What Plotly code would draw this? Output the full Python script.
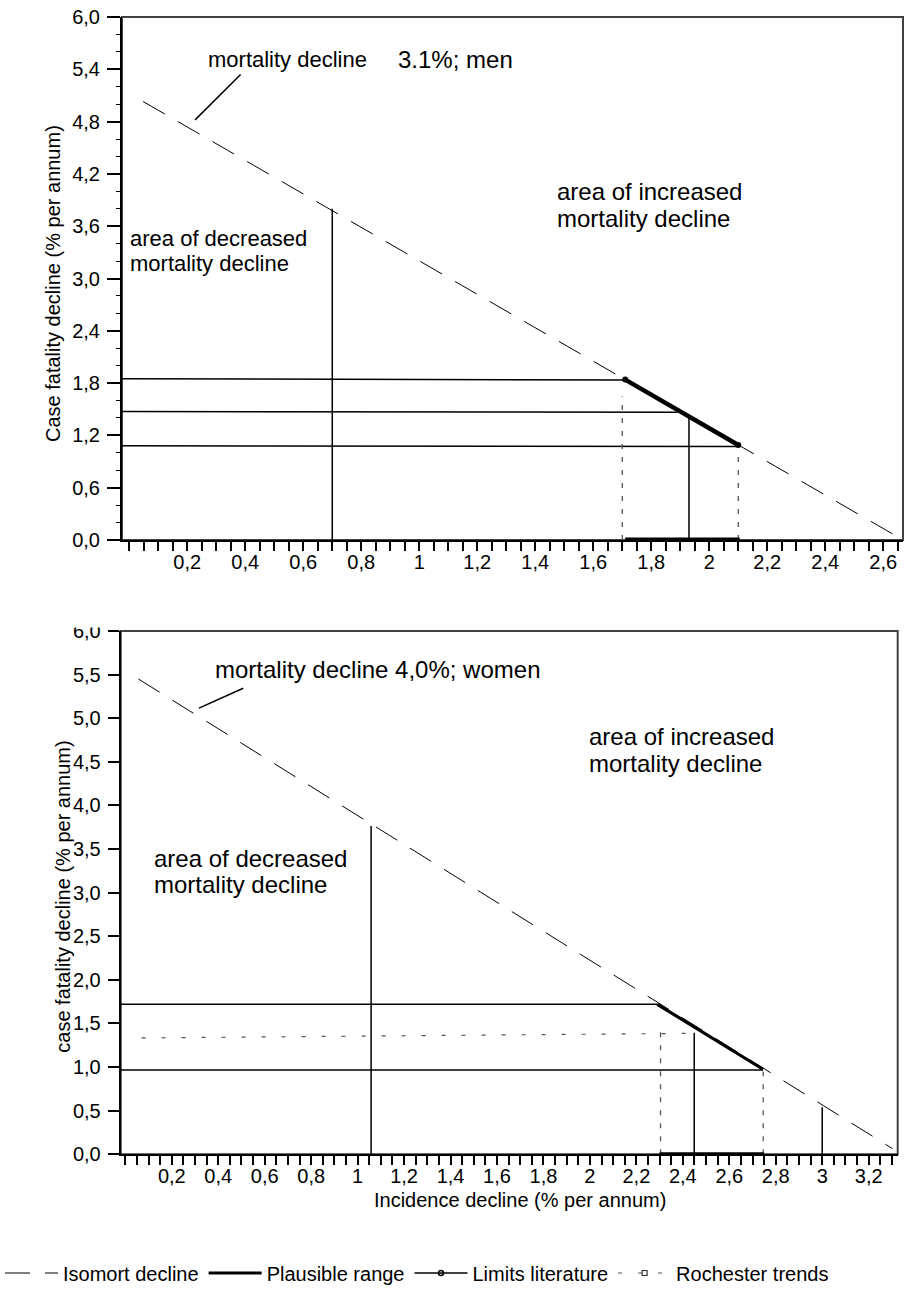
import plotly.graph_objects as go

# ---------------- data: men (top panel) ----------------
men_iso_x = [0.048, 2.632]
men_iso_y = [5.03, 0.07]
men_plaus_x = [1.71, 2.10]
men_plaus_y = [1.84, 1.09]
men_plaus_base_x = [1.71, 2.105]
men_plaus_base_y = [0.0, 0.0]
men_lim_h1_x = [-0.025, 1.71]
men_lim_h1_y = [1.85, 1.835]
men_lim_h2_x = [-0.025, 1.89]
men_lim_h2_y = [1.475, 1.465]
men_lim_h3_x = [-0.025, 2.10]
men_lim_h3_y = [1.082, 1.072]
men_lim_v1_x = [0.70, 0.70]
men_lim_v1_y = [0.0, 3.80]
men_lim_v2_x = [1.93, 1.93]
men_lim_v2_y = [0.0, 1.40]
men_roch_v1_x = [1.70, 1.70]
men_roch_v1_y = [0.0, 1.65]
men_roch_v2_x = [2.10, 2.10]
men_roch_v2_y = [0.0, 0.98]
men_pointer_x = [0.227, 0.384]
men_pointer_y = [4.82, 5.34]

men_xtick_vals = [0.2, 0.4, 0.6, 0.8, 1.0, 1.2, 1.4, 1.6, 1.8, 2.0, 2.2, 2.4, 2.6]
men_xtick_text = ["0,2", "0,4", "0,6", "0,8", "1", "1,2", "1,4", "1,6", "1,8", "2", "2,2", "2,4", "2,6"]
men_ytick_vals = [0.0, 0.6, 1.2, 1.8, 2.4, 3.0, 3.6, 4.2, 4.8, 5.4, 6.0]
men_ytick_text = ["0,0", "0,6", "1,2", "1,8", "2,4", "3,0", "3,6", "4,2", "4,8", "5,4", "6,0"]

# ---------------- data: women (bottom panel) ----------------
wom_iso_x = [0.056, 3.303]
wom_iso_y = [5.45, 0.064]
wom_plaus_x = [2.29, 2.745]
wom_plaus_y = [1.72, 0.975]
wom_plaus_base_x = [2.30, 2.75]
wom_plaus_base_y = [0.0, 0.0]
wom_lim_h1_x = [-0.02, 2.29]
wom_lim_h1_y = [1.72, 1.72]
wom_lim_h2_x = [-0.02, 2.745]
wom_lim_h2_y = [0.967, 0.967]
wom_lim_v1_x = [1.058, 1.058]
wom_lim_v1_y = [0.0, 3.765]
wom_lim_v2_x = [2.449, 2.449]
wom_lim_v2_y = [0.0, 1.395]
wom_lim_v3_x = [3.0, 3.0]
wom_lim_v3_y = [0.0, 0.54]
wom_roch_h_x = [0.07, 2.45]
wom_roch_h_y = [1.334, 1.387]
wom_roch_v1_x = [2.304, 2.304]
wom_roch_v1_y = [0.0, 1.48]
wom_roch_v2_x = [2.746, 2.746]
wom_roch_v2_y = [0.0, 0.95]
wom_pointer_x = [0.317, 0.5075]
wom_pointer_y = [5.115, 5.344]

wom_xtick_vals = [0.2, 0.4, 0.6, 0.8, 1.0, 1.2, 1.4, 1.6, 1.8, 2.0, 2.2, 2.4, 2.6, 2.8, 3.0, 3.2]
wom_xtick_text = ["0,2", "0,4", "0,6", "0,8", "1", "1,2", "1,4", "1,6", "1,8", "2", "2,2", "2,4", "2,6", "2,8", "3", "3,2"]
wom_ytick_vals = [0.0, 0.5, 1.0, 1.5, 2.0, 2.5, 3.0, 3.5, 4.0, 4.5, 5.0, 5.5, 6.0]
wom_ytick_text = ["0,0", "0,5", "1,0", "1,5", "2,0", "2,5", "3,0", "3,5", "4,0", "4,5", "5,0", "5,5", "6,0"]

legend_names = ["Isomort decline", "Plausible range", "Limits literature", "Rochester trends"]

FONT = "Liberation Sans, Arial, sans-serif"
W, H = 904, 1292
BLACK = "#000000"
GRAY = "#555555"

fig = go.Figure()


def line(x, y, xa, ya, width=1.5, color=BLACK, dash="solid"):
    fig.add_trace(go.Scatter(x=x, y=y, xaxis=xa, yaxis=ya, mode="lines",
                             line=dict(color=color, width=width, dash=dash),
                             showlegend=False, hoverinfo="skip"))


ISO_DASH = "25px,15px"

# ---- men panel ----
line(men_iso_x, men_iso_y, "x", "y", width=1, dash=ISO_DASH)
for hx, hy in [(men_lim_h1_x, men_lim_h1_y), (men_lim_h2_x, men_lim_h2_y), (men_lim_h3_x, men_lim_h3_y),
               (men_lim_v1_x, men_lim_v1_y), (men_lim_v2_x, men_lim_v2_y)]:
    line(hx, hy, "x", "y", width=1.5)
for rx, ry in [(men_roch_v1_x, men_roch_v1_y), (men_roch_v2_x, men_roch_v2_y)]:
    line(rx, ry, "x", "y", width=1.3, color=GRAY, dash="5px,8px")
fig.add_trace(go.Scatter(x=men_plaus_x, y=men_plaus_y, xaxis="x", yaxis="y", mode="lines+markers",
                         line=dict(color=BLACK, width=4.5), marker=dict(color=BLACK, size=6),
                         showlegend=False, hoverinfo="skip", cliponaxis=False))
fig.add_trace(go.Scatter(x=men_plaus_base_x, y=men_plaus_base_y, xaxis="x", yaxis="y", mode="lines",
                         line=dict(color=BLACK, width=5), showlegend=False, hoverinfo="skip",
                         cliponaxis=False))
line(men_pointer_x, men_pointer_y, "x", "y", width=1.5)

# ---- women panel ----
line(wom_iso_x, wom_iso_y, "x2", "y2", width=1, dash=ISO_DASH)
for hx, hy in [(wom_lim_h1_x, wom_lim_h1_y), (wom_lim_h2_x, wom_lim_h2_y), (wom_lim_v1_x, wom_lim_v1_y),
               (wom_lim_v2_x, wom_lim_v2_y), (wom_lim_v3_x, wom_lim_v3_y)]:
    line(hx, hy, "x2", "y2", width=1.5)
line(wom_roch_h_x, wom_roch_h_y, "x2", "y2", width=1.2, color=GRAY, dash="4px,16px")
for rx, ry in [(wom_roch_v1_x, wom_roch_v1_y), (wom_roch_v2_x, wom_roch_v2_y)]:
    line(rx, ry, "x2", "y2", width=1.3, color=GRAY, dash="5px,8px")
fig.add_trace(go.Scatter(x=wom_plaus_x, y=wom_plaus_y, xaxis="x2", yaxis="y2", mode="lines",
                         line=dict(color=BLACK, width=3.2), showlegend=False, hoverinfo="skip"))
fig.add_trace(go.Scatter(x=wom_plaus_base_x, y=wom_plaus_base_y, xaxis="x2", yaxis="y2", mode="lines",
                         line=dict(color=BLACK, width=4), showlegend=False, hoverinfo="skip",
                         cliponaxis=False))
line(wom_pointer_x, wom_pointer_y, "x2", "y2", width=1.5)

# ---- legend entries ----
fig.add_trace(go.Scatter(x=[None], y=[None], mode="lines", name=legend_names[0],
                         line=dict(color=BLACK, width=1, dash=ISO_DASH)))
fig.add_trace(go.Scatter(x=[None], y=[None], mode="lines", name=legend_names[1],
                         line=dict(color=BLACK, width=3)))
fig.add_trace(go.Scatter(x=[None], y=[None], mode="lines+markers", name=legend_names[2],
                         line=dict(color=BLACK, width=1.5),
                         marker=dict(symbol="circle-open", size=5, color=BLACK, line=dict(width=1.5))))
fig.add_trace(go.Scatter(x=[None], y=[None], mode="lines+markers", name=legend_names[3],
                         line=dict(color=GRAY, width=1.2, dash="4px,16px"),
                         marker=dict(symbol="square-open", size=5, color="#333333", line=dict(width=1.2))))

tickfont = dict(family=FONT, size=20, color=BLACK)


def xaxis(domain, rng, vals, text):
    return dict(domain=domain, range=rng, tickmode="array", tickvals=vals, ticktext=text,
                ticks="outside", ticklen=9, tickwidth=1.5, tickcolor=BLACK,
                minor=dict(dtick=0.05, tick0=0, ticks="outside", ticklen=9, tickwidth=1.5, tickcolor=BLACK),
                showline=True, linewidth=2, linecolor=BLACK, showgrid=False, zeroline=False,
                tickfont=tickfont, ticklabelstandoff=-6, fixedrange=True)


def yaxis(domain, vals, text, ticklen, minor=None):
    d = dict(domain=domain, range=[0, 6], tickmode="array", tickvals=vals, ticktext=text,
             ticks="outside", ticklen=ticklen, tickwidth=1.5, tickcolor=BLACK,
             showline=True, linewidth=2, linecolor=BLACK, showgrid=False, zeroline=False,
             tickfont=tickfont, ticklabelstandoff=3, fixedrange=True)
    if minor:
        d["minor"] = minor
    return d


fig.update_layout(
    width=W, height=H,
    margin=dict(l=0, r=0, t=0, b=0, autoexpand=False),
    paper_bgcolor="white", plot_bgcolor="white",
    font=dict(family=FONT, size=20, color=BLACK),
    xaxis=xaxis([122 / W, 903 / W], [-0.025, 2.668], men_xtick_vals, men_xtick_text),
    yaxis=yaxis([(H - 540) / H, (H - 17) / H], men_ytick_vals, men_ytick_text, 13,
                minor=dict(dtick=0.2, tick0=0, ticks="outside", ticklen=4, tickwidth=1.2, tickcolor=BLACK)),
    xaxis2=dict(xaxis([120.7 / W, 897.7 / W], [-0.02, 3.325], wom_xtick_vals, wom_xtick_text), anchor="y2"),
    yaxis2=dict(yaxis([(H - 1154.3) / H, (H - 631) / H], wom_ytick_vals, wom_ytick_text, 11), anchor="x2"),
    legend=dict(orientation="h", x=0.0, xanchor="left", y=(H - 1273) / H, yanchor="middle",
                font=dict(family=FONT, size=20, color=BLACK), itemwidth=53,
                bgcolor="rgba(0,0,0,0)"),
    showlegend=True,
)

# frames (top/right edges gray)
for xr, yr in [("x", "y"), ("x2", "y2")]:
    fig.add_shape(type="rect", xref=f"{xr} domain", yref=f"{yr} domain", x0=0, x1=1, y0=0, y1=1,
                  line=dict(color="#404040", width=2), layer="below")

# partly hidden top label of lower panel
fig.add_shape(type="rect", xref="paper", yref="paper", x0=55 / W, x1=112 / W,
              y0=(H - 627.5) / H, y1=(H - 615) / H, fillcolor="white", line=dict(width=0), layer="above")

# annotations
ann = []


def text(t, x, y, xref, yref, size):
    ann.append(dict(text=t, x=x, y=y, xref=xref, yref=yref, xanchor="left", yanchor="middle",
                    showarrow=False, font=dict(family=FONT, size=size, color=BLACK), borderpad=0))


text("mortality decline", 0.269, 5.516, "x", "y", 22)
text("3.1%; men", 0.922, 5.516, "x", "y", 24)
text("area of increased", 1.471, 3.994, "x", "y", 24)
text("mortality decline", 1.471, 3.689, "x", "y", 24)
text("area of decreased", 0.0, 3.455, "x", "y", 22)
text("mortality decline", 0.0, 3.173, "x", "y", 22)

text("mortality decline 4,0%; women", 0.383, 5.554, "x2", "y2", 24)
text("area of increased", 1.993, 4.789, "x2", "y2", 24)
text("mortality decline", 1.993, 4.476, "x2", "y2", 24)
text("area of decreased", 0.120, 3.394, "x2", "y2", 24)
text("mortality decline", 0.120, 3.088, "x2", "y2", 24)

ann.append(dict(text="Case fatality decline (% per annum)", x=53 / W, y=(H - 284) / H, xref="paper", yref="paper",
                xanchor="center", yanchor="middle",
                textangle=-90, showarrow=False, font=dict(family=FONT, size=20, color=BLACK)))
ann.append(dict(text="case fatality decline (% per annum)", x=63 / W, y=(H - 896.7) / H, xref="paper", yref="paper",
                xanchor="center", yanchor="middle",
                textangle=-90, showarrow=False, font=dict(family=FONT, size=20, color=BLACK)))
ann.append(dict(text="Incidence decline (% per annum)", x=520 / W, y=(H - 1200) / H, xref="paper", yref="paper",
                xanchor="center", yanchor="middle",
                showarrow=False, font=dict(family=FONT, size=20, color=BLACK)))
fig.update_layout(annotations=ann)

fig.write_html("out.html", config={"displayModeBar": False},
               post_script="document.body.style.margin='0';")
